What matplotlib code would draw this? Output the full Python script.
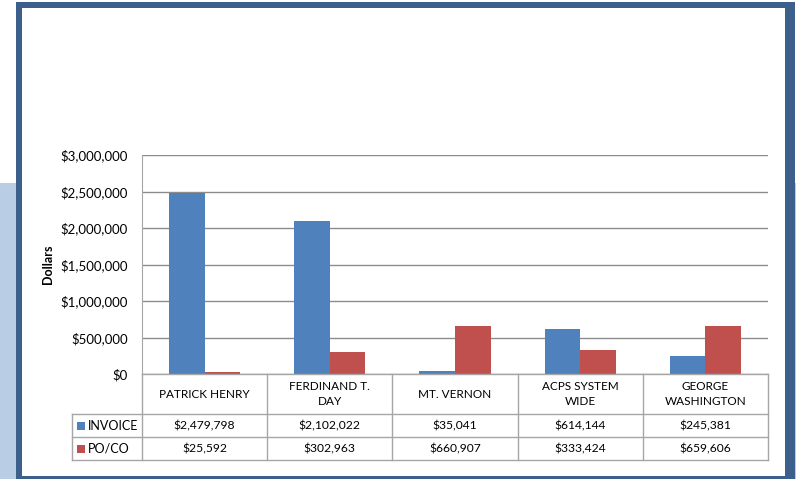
import matplotlib.pyplot as plt
from matplotlib.patches import Rectangle
from matplotlib.ticker import FuncFormatter
import numpy as np

categories = ["PATRICK HENRY", "FERDINAND T.\nDAY", "MT. VERNON", "ACPS SYSTEM\nWIDE", "GEORGE\nWASHINGTON"]
series_names = ["INVOICE", "PO/CO"]
invoice = [2479798, 2102022, 35041, 614144, 245381]
po_co = [25592, 302963, 660907, 333424, 659606]
y_ticks = [0, 500000, 1000000, 1500000, 2000000, 2500000, 3000000]

BLUE = "#4F81BD"
RED = "#C0504D"
FRAME = "#3C5F8C"
PALE = "#B9CDE5"
GRID = "#8C8C8C"
LINE = "#A6A6A6"

plt.rcParams['font.family'] = ['Lato', 'DejaVu Sans']

W, H = 796, 479
fig = plt.figure(figsize=(W / 100, H / 100), dpi=100)


def px(x0, y0, x1, y1):
    # pixel box (top-left origin) -> figure rect
    return [x0 / W, 1 - y1 / H, (x1 - x0) / W, (y1 - y0) / H]


# background: pale band, dark frame, white panel
def fig_rect(x0, y0, x1, y1, color, z):
    l, b, w, h = px(x0, y0, x1, y1)
    fig.patches.append(Rectangle((l, b), w, h, transform=fig.transFigure,
                                 facecolor=color, edgecolor='none', zorder=z))


fig_rect(0, 183, W, H, PALE, -3)
fig_rect(16, 2, 795, H + 5, FRAME, -2)
fig_rect(22, 8, 785, 476, "white", -1)

# main chart
ax = fig.add_axes(px(142, 155, 768, 374))
x = np.arange(len(categories))
bw = 0.284
ax.bar(x - bw / 2, invoice, bw, color=BLUE, zorder=3)
ax.bar(x + bw / 2, po_co, bw, color=RED, zorder=3)
ax.set_xlim(-0.5, len(categories) - 0.5)
ax.set_ylim(0, 3000000)
ax.set_yticks(y_ticks)
ax.yaxis.set_major_formatter(FuncFormatter(lambda v, p: "${:,.0f}".format(v)))
ax.tick_params(axis='y', length=0, pad=10, labelsize=9.5)
ax.set_xticks([])
ax.grid(axis='y', color=GRID, linewidth=1, zorder=0)
for s in ["top", "right", "bottom"]:
    ax.spines[s].set_visible(False)
ax.spines["left"].set_color(LINE)
ax.set_ylabel("Dollars", fontsize=9, fontweight='bold')
ax.yaxis.set_label_coords(-88 / 626, 0.5)
ax.patch.set_alpha(0)

# data table under the chart
lab_w = 70 / 125.2
tx = fig.add_axes(px(72, 374, 768, 460))
tx.set_xlim(-0.5 - lab_w, len(categories) - 0.5)
tx.set_ylim(86, 0)
tx.axis('off')
edges = np.arange(len(categories) + 1) - 0.5
row_y = [0, 40, 63, 86]
kw = dict(color=LINE, linewidth=1, clip_on=False)
tx.plot([edges[0], edges[-1]], [0, 0], **kw)
for yy in row_y[1:]:
    tx.plot([edges[0] - lab_w, edges[-1]], [yy, yy], **kw)
for e in edges:
    tx.plot([e, e], [0, 86], **kw)
tx.plot([edges[0] - lab_w] * 2, [40, 86], **kw)

for i, c in enumerate(categories):
    tx.text(i, 20, c, ha='center', va='center', fontsize=8.5, linespacing=1.5)
rows = [invoice, po_co]
colors = [BLUE, RED]
for r, (name, vals, col) in enumerate(zip(series_names, rows, colors)):
    yc = (row_y[r + 1] + row_y[r + 2]) / 2
    for i, v in enumerate(vals):
        tx.text(i, yc, "${:,.0f}".format(v), ha='center', va='center', fontsize=8.7)
    x0 = edges[0] - lab_w + 5 / 125.2
    tx.add_patch(Rectangle((x0, yc - 4), 8 / 125.2, 8, facecolor=col, edgecolor='none', clip_on=False))
    tx.text(edges[0] - lab_w + 16 / 125.2, yc, name, ha='left', va='center', fontsize=9)

fig.savefig("out.png", dpi=100)
